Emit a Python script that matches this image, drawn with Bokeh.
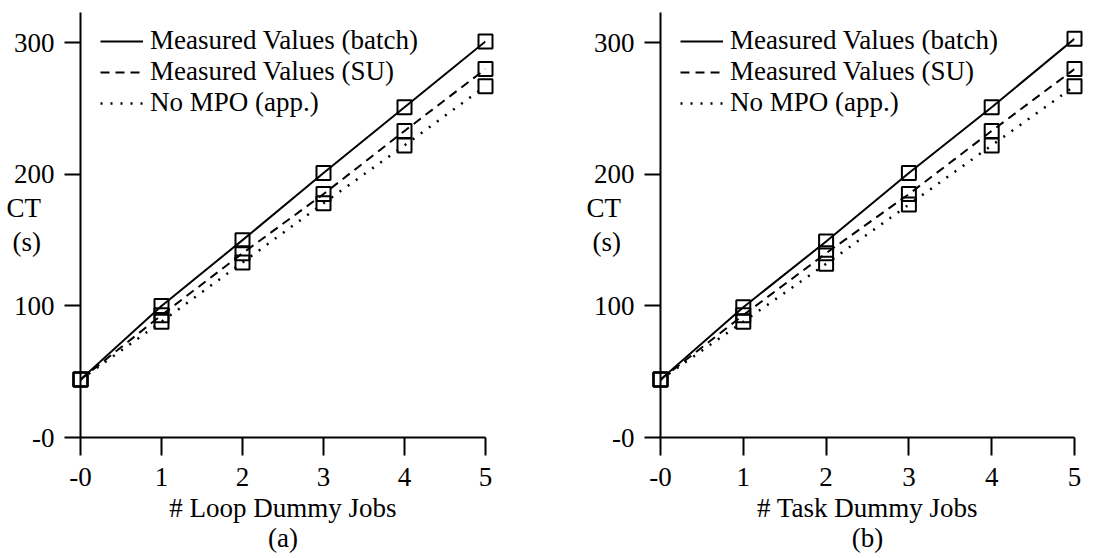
from bokeh.plotting import figure
from bokeh.layouts import row
from bokeh.models import Range1d, Legend, LegendItem, FixedTicker
from bokeh.embed import file_html
from bokeh.resources import INLINE

# Number of dummy jobs
jobs = [0, 1, 2, 3, 4, 5]

# (a) loop dummy jobs: cycle time CT in seconds
loop_batch = [44, 100, 150, 201, 251, 301]
loop_su = [44, 93, 140, 185, 233, 280]
loop_nompo = [44, 88, 133, 178, 222, 267]

# (b) task dummy jobs: cycle time CT in seconds
task_batch = [44, 99, 149, 201, 251, 303]
task_su = [44, 93, 140, 185, 233, 280]
task_nompo = [44, 88, 132, 177, 222, 267]

series_names = ["Measured Values (batch)", "Measured Values (SU)", "No MPO (app.)"]
x_ticks = [0, 1, 2, 3, 4, 5]
y_ticks = [0, 100, 200, 300]
x_titles = ["# Loop Dummy Jobs\n(a)", "# Task Dummy Jobs\n(b)"]
y_title = "CT\n(s)"

FONT = "Liberation Serif"
FS = "27px"
DASHES = ["solid", "9 6", "2 8"]
WIDTHS = [2, 2, 2.5]


def make_panel(series, x_title, width, border_left, border_right):
    p = figure(width=width, height=558, output_backend="svg", toolbar_location=None,
               x_range=Range1d(0, 5), y_range=Range1d(0, 323),
               min_border_left=border_left, min_border_right=border_right,
               min_border_top=12, min_border_bottom=121)
    p.outline_line_color = None
    p.grid.visible = False
    p.background_fill_color = "white"
    p.border_fill_color = "white"

    items = []
    for vals, name, dash, lw in zip(series, series_names, DASHES, WIDTHS):
        r = p.line(jobs, vals, line_color="black", line_width=lw, line_dash=dash)
        p.scatter(jobs, vals, marker="square", size=14, fill_color=None,
                  line_color="black", line_width=2, level="overlay")
        items.append(LegendItem(label=name, renderers=[r]))

    # legend anchored by its bottom-left corner, measured from the frame's bottom-left
    legend = Legend(items=items, location=(20, 319), background_fill_alpha=0,
                    border_line_color=None, padding=0, margin=0, spacing=0,
                    glyph_width=43, glyph_height=30, label_standoff=7,
                    label_text_font=FONT, label_text_font_size=FS,
                    label_text_color="black", label_height=30)
    p.add_layout(legend)

    for ax in (p.xaxis[0], p.yaxis[0]):
        ax.axis_line_width = 2
        ax.major_tick_line_width = 2
        ax.minor_tick_line_color = None
        ax.major_tick_in = 0
        ax.major_label_text_font = FONT
        ax.major_label_text_font_size = FS
        ax.major_label_text_color = "black"
        ax.major_label_overrides = {0: "-0"}
        ax.axis_label_text_font = FONT
        ax.axis_label_text_font_size = FS
        ax.axis_label_text_font_style = "normal"
        ax.axis_label_text_color = "black"

    p.xaxis.ticker = FixedTicker(ticks=x_ticks)
    p.yaxis.ticker = FixedTicker(ticks=y_ticks)
    p.xaxis.major_tick_out = 18
    p.yaxis.major_tick_out = 16
    p.xaxis.major_label_standoff = 12
    p.yaxis.major_label_standoff = 10

    p.xaxis.axis_label = x_title
    p.xaxis.axis_label_standoff = 4
    p.xaxis.axis_label_text_line_height = 1.0

    # horizontal y title tucked under the tick labels, left of the axis
    p.yaxis.axis_label = y_title
    p.yaxis.axis_label_orientation = "horizontal"
    p.yaxis.axis_label_standoff = -30
    p.yaxis.axis_label_text_line_height = 1.15
    return p


left = make_panel([loop_batch, loop_su, loop_nompo], x_titles[0], 560, 80, 75)
right = make_panel([task_batch, task_su, task_nompo], x_titles[1], 551, 100, 37)

layout = row(left, right)
open("out.html", "w").write(file_html(layout, INLINE))
